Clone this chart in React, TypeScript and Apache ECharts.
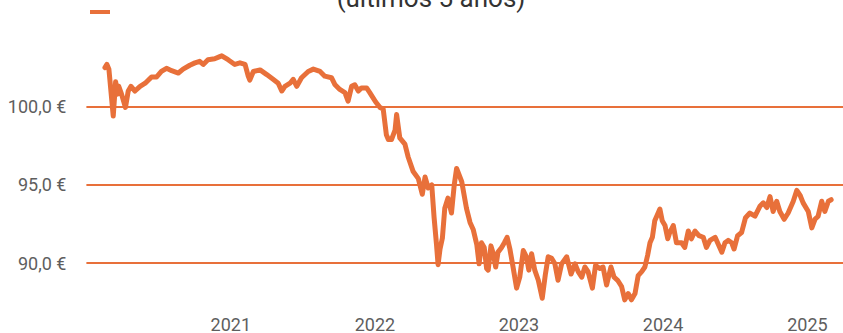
import { useEffect, useRef } from "react";
import * as echarts from "echarts";

const titleText = "(últimos 5 años)";
const axisStart = "2020-01-01";
const axisEnd = "2025-04-01";
const yearTicks = ["2021-01-01", "2022-01-01", "2023-01-01", "2024-01-01", "2025-01-01"];
const priceTicks = [90, 95, 100];
const priceMin = 87;
const priceMax = 104;

const dates = [
  "2020-02-17", "2020-02-22", "2020-02-27", "2020-03-09", "2020-03-15", "2020-03-20", "2020-03-23", "2020-03-30",
  "2020-04-09", "2020-04-16", "2020-04-23", "2020-05-03", "2020-05-16", "2020-05-29", "2020-06-14", "2020-06-27",
  "2020-07-09", "2020-07-22", "2020-08-04", "2020-08-21", "2020-09-02", "2020-09-19", "2020-10-02", "2020-10-14",
  "2020-10-23", "2020-11-04", "2020-11-21", "2020-12-04", "2020-12-09", "2020-12-25",
  "2021-01-11", "2021-01-24", "2021-02-06", "2021-02-14", "2021-02-18", "2021-02-27", "2021-03-16", "2021-04-02",
  "2021-04-18", "2021-05-01", "2021-05-10", "2021-05-18", "2021-05-31", "2021-06-08", "2021-06-17", "2021-06-29",
  "2021-07-16", "2021-07-29", "2021-08-15", "2021-08-27", "2021-09-13", "2021-09-22", "2021-10-04", "2021-10-17",
  "2021-10-25", "2021-11-03", "2021-11-11", "2021-11-20", "2021-11-28", "2021-12-11", "2021-12-19",
  "2022-01-03", "2022-01-14", "2022-01-22", "2022-01-30", "2022-02-04", "2022-02-12", "2022-02-21", "2022-02-25",
  "2022-03-05", "2022-03-18", "2022-03-26", "2022-04-08", "2022-04-21", "2022-05-01", "2022-05-08", "2022-05-16",
  "2022-05-25", "2022-05-31", "2022-06-06", "2022-06-10", "2022-06-15", "2022-06-21", "2022-06-27", "2022-07-05",
  "2022-07-14", "2022-07-21", "2022-07-27", "2022-08-09", "2022-08-21", "2022-08-30", "2022-09-07", "2022-09-16",
  "2022-09-22", "2022-09-28", "2022-10-05", "2022-10-11", "2022-10-15", "2022-10-22", "2022-10-28", "2022-11-03",
  "2022-11-09", "2022-11-18", "2022-11-25", "2022-12-02", "2022-12-09", "2022-12-17", "2022-12-26",
  "2023-01-03", "2023-01-12", "2023-01-20", "2023-01-26", "2023-02-02", "2023-02-10", "2023-02-19", "2023-03-01",
  "2023-03-09", "2023-03-16", "2023-03-25", "2023-04-02", "2023-04-10", "2023-04-19", "2023-05-02", "2023-05-13",
  "2023-05-23", "2023-05-31", "2023-06-09", "2023-06-17", "2023-06-25", "2023-07-06", "2023-07-14", "2023-07-25",
  "2023-08-02", "2023-08-11", "2023-08-22", "2023-08-30", "2023-09-08", "2023-09-18", "2023-09-26", "2023-10-05",
  "2023-10-13", "2023-10-22", "2023-10-30", "2023-11-08", "2023-11-16", "2023-11-23", "2023-11-29", "2023-12-05",
  "2023-12-11", "2023-12-18", "2023-12-24", "2023-12-30",
  "2024-01-06", "2024-01-13", "2024-01-18", "2024-01-27", "2024-02-04", "2024-02-17", "2024-02-25", "2024-03-05",
  "2024-03-13", "2024-03-22", "2024-04-01", "2024-04-12", "2024-04-20", "2024-04-29", "2024-05-12", "2024-05-20",
  "2024-05-29", "2024-06-06", "2024-06-14", "2024-06-23", "2024-06-29", "2024-07-08", "2024-07-18", "2024-07-28",
  "2024-08-08", "2024-08-21", "2024-09-03", "2024-09-11", "2024-09-20", "2024-09-28", "2024-10-06", "2024-10-15",
  "2024-10-23", "2024-11-03", "2024-11-13", "2024-11-26", "2024-12-05", "2024-12-13", "2024-12-21",
  "2025-01-03", "2025-01-12", "2025-01-20", "2025-01-28", "2025-02-06", "2025-02-14", "2025-02-23", "2025-03-02",
];

const prices = [
  102.5, 102.7, 102.4, 99.4, 101.6, 100.8, 101.3, 100.8,
  99.95, 101.0, 101.3, 101.0, 101.3, 101.5, 101.9, 101.9,
  102.25, 102.45, 102.3, 102.15, 102.4, 102.65, 102.8, 102.9,
  102.7, 103.0, 103.06, 103.2, 103.25, 103.0,
  102.7, 102.8, 102.7, 101.95, 101.7, 102.25, 102.35, 102.05,
  101.75, 101.5, 101.0, 101.3, 101.5, 101.75, 101.3, 101.85,
  102.25, 102.4, 102.25, 101.95, 101.85, 101.4, 101.1, 100.9,
  100.35, 101.3, 101.4, 101.0, 101.2, 101.2, 100.9,
  100.3, 99.95, 99.85, 98.2, 97.9, 97.9, 98.5, 99.5,
  98.0, 97.6, 96.8, 95.85, 95.4, 94.4, 95.5, 94.8,
  95.0, 92.9, 91.2, 89.9, 90.9, 91.6, 93.5, 94.15,
  93.2, 95.0, 96.05, 95.2, 93.5, 92.6, 92.15, 91.2,
  89.95, 91.3, 91.0, 89.65, 89.55, 91.1, 90.6, 89.75,
  90.7, 91.0, 91.3, 91.65, 90.9, 89.75, 88.4,
  89.1, 90.8, 90.4, 89.55, 90.6, 89.55, 88.9, 87.75,
  89.3, 90.4, 90.3, 89.95, 88.9, 89.95, 90.4, 89.3,
  89.95, 89.45, 89.1, 89.75, 89.45, 88.4, 89.85, 89.65,
  89.75, 88.6, 89.75, 89.1, 88.9, 88.5, 87.65, 88.05,
  87.65, 88.05, 89.2, 89.45, 89.75, 90.5, 91.3, 91.65,
  92.7, 93.1, 93.45, 92.7,
  92.4, 91.55, 91.95, 92.4, 91.3, 91.3, 91.0, 92.05,
  91.55, 92.05, 91.75, 91.65, 91.0, 91.45, 91.65, 91.2,
  90.7, 91.3, 91.45, 91.3, 90.9, 91.75, 91.95, 92.9,
  93.2, 93.0, 93.65, 93.85, 93.55, 94.25, 93.3, 93.95,
  93.3, 92.8, 93.2, 93.95, 94.65, 94.35, 93.85,
  93.3, 92.25, 92.8, 93.0, 93.95, 93.3, 93.95, 94.05,
];

const ts = (d: string) => Date.parse(d + "T00:00:00Z");

const ORANGE = "#e8703a";
const LABEL = "#5e5e5e";

export default function App() {
  const ref = useRef<HTMLDivElement>(null);
  useEffect(() => {
    if (!ref.current) return;
    const chart = echarts.init(ref.current, null, { renderer: "svg" });
    const yearVals = yearTicks.map(ts);
    chart.setOption({
      animation: false,
      grid: { left: 86.4, right: 0, top: 44.1, height: 269.45, containLabel: false },
      xAxis: {
        type: "value",
        min: ts(axisStart),
        max: ts(axisEnd),
        axisLine: { show: false },
        axisTick: { show: false, customValues: yearVals },
        splitLine: { show: false },
        axisLabel: {
          customValues: yearVals,
          formatter: (v: number) => String(new Date(v).getUTCFullYear()),
          color: LABEL,
          fontSize: 18,
          fontFamily: "Roboto",
          margin: 5,
        },
      },
      yAxis: {
        type: "value",
        min: priceMin,
        max: priceMax,
        axisLine: { show: false },
        axisTick: { show: false, customValues: priceTicks },
        axisLabel: {
          customValues: priceTicks,
          formatter: (v: number) => v.toFixed(1).replace(".", ",") + " €",
          color: LABEL,
          fontSize: 18,
          fontFamily: "Roboto",
          margin: 20,
        },
        splitLine: { show: true, lineStyle: { color: ORANGE, width: 2 } },
      },
      series: [
        {
          type: "line",
          data: dates.map((d, i) => [ts(d), prices[i]]),
          showSymbol: false,
          symbol: "none",
          lineStyle: { color: ORANGE, width: 5, join: "round", cap: "round" },
          itemStyle: { color: ORANGE },
        },
      ],
      graphic: [
        { type: "rect", shape: { x: 90, y: 10, width: 20, height: 4 }, style: { fill: ORANGE } },
        {
          type: "text",
          x: 431,
          y: 11,
          style: {
            text: titleText,
            fontSize: 26,
            fontFamily: "Roboto",
            fill: "#333333",
            align: "center",
            verticalAlign: "bottom",
          },
        },
      ],
    });
    return () => chart.dispose();
  }, []);
  return (
    <div
      ref={ref}
      style={{ position: "fixed", left: 0, top: 0, width: 843, height: 333, background: "#ffffff" }}
    />
  );
}
